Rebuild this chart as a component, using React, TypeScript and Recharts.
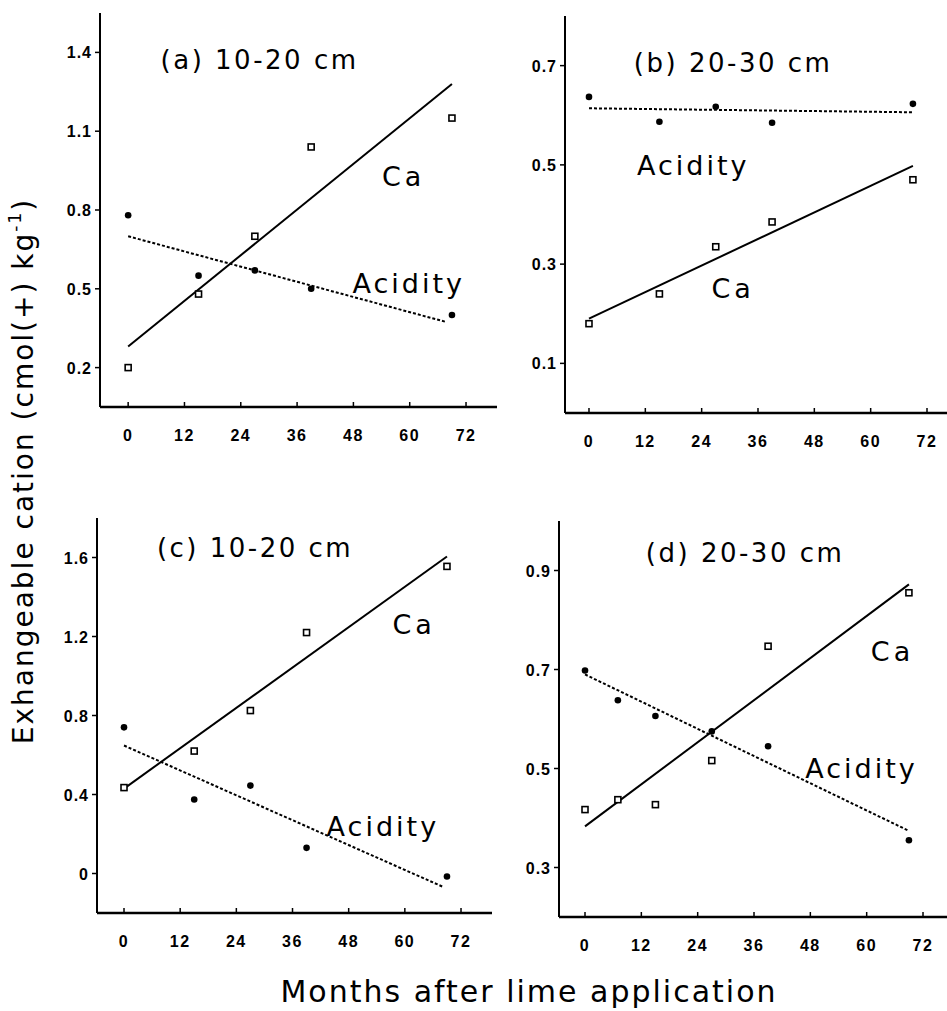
import React from 'react';
import { ComposedChart, XAxis, YAxis, Scatter, Line, ReferenceDot } from 'recharts';

// ---------- data ----------
const MONTH_TICKS = [0, 12, 24, 36, 48, 60, 72];

// (a) 10-20 cm
const MONTHS_A = [0, 15, 27, 39, 69];
const CA_A = [0.2, 0.48, 0.7, 1.04, 1.15];
const ACID_A = [0.78, 0.55, 0.57, 0.5, 0.4];
const CA_FIT_MONTHS_A = [0, 69];
const CA_FIT_A = [0.28, 1.28];
const ACID_FIT_MONTHS_A = [0, 67.5];
const ACID_FIT_A = [0.7, 0.375];
const Y_TICKS_A = [0.2, 0.5, 0.8, 1.1, 1.4];

// (b) 20-30 cm
const MONTHS_B = [0, 15, 27, 39, 69];
const CA_B = [0.18, 0.24, 0.335, 0.385, 0.47];
const ACID_B = [0.637, 0.587, 0.617, 0.585, 0.623];
const CA_FIT_MONTHS_B = [0, 69];
const CA_FIT_B = [0.19, 0.498];
const ACID_FIT_MONTHS_B = [0, 69];
const ACID_FIT_B = [0.614, 0.606];
const Y_TICKS_B = [0.1, 0.3, 0.5, 0.7];

// (c) 10-20 cm
const MONTHS_C = [0, 15, 27, 39, 69];
const CA_C = [0.435, 0.62, 0.825, 1.22, 1.555];
const ACID_C = [0.74, 0.375, 0.445, 0.13, -0.015];
const CA_FIT_MONTHS_C = [0, 69];
const CA_FIT_C = [0.43, 1.605];
const ACID_FIT_MONTHS_C = [0, 68];
const ACID_FIT_C = [0.648, -0.066];
const Y_TICKS_C = [0, 0.4, 0.8, 1.2, 1.6];

// (d) 20-30 cm
const MONTHS_D = [0, 7, 15, 27, 39, 69];
const CA_D = [0.417, 0.437, 0.427, 0.516, 0.747, 0.855];
const ACID_D = [0.698, 0.638, 0.606, 0.575, 0.545, 0.355];
const CA_FIT_MONTHS_D = [0, 69];
const CA_FIT_D = [0.383, 0.872];
const ACID_FIT_MONTHS_D = [0, 69];
const ACID_FIT_D = [0.69, 0.374];
const Y_TICKS_D = [0.3, 0.5, 0.7, 0.9];

const TITLES = ['(a) 10-20 cm', '(b) 20-30 cm', '(c) 10-20 cm', '(d) 20-30 cm'];
const Y_TITLE = 'Exhangeable cation (cmol(+) kg';
const X_TITLE = 'Months after lime application';

// ---------- helpers ----------
type Pt = { x: number; y: number };
const toPts = (xs: number[], ys: number[]): Pt[] => xs.map((x, i) => ({ x, y: ys[i] }));

const TICK_FONT = '"Liberation Sans", Arial, sans-serif';
const TEXT_FONT = '"DejaVu Sans", sans-serif';

const XTick = (props: any) => {
  const { x, y, payload } = props;
  return (
    <g>
      <line x1={x} x2={x} y1={y} y2={y - 5} stroke="#000" strokeWidth={1.5} />
      <text x={x} y={y + 34} textAnchor="middle" fontFamily={TICK_FONT} fontWeight="bold" fontSize={16} letterSpacing={1.5} fill="#000">
        {payload.value}
      </text>
    </g>
  );
};

const YTick = (props: any) => {
  const { x, y, payload } = props;
  return (
    <g>
      <line x1={x - 5} x2={x} y1={y} y2={y} stroke="#000" strokeWidth={1.5} />
      <text x={x - 8} y={y + 6} textAnchor="end" fontFamily={TICK_FONT} fontWeight="bold" fontSize={16} letterSpacing={1} fill="#000">
        {String(payload.value)}
      </text>
    </g>
  );
};

const SquareShape = (props: any) => {
  const { cx, cy } = props;
  if (cx == null || cy == null) return null;
  return <rect x={cx - 3} y={cy - 3} width={6} height={6} fill="#fff" stroke="#000" strokeWidth={1.6} />;
};

const DotShape = (props: any) => {
  const { cx, cy } = props;
  if (cx == null || cy == null) return null;
  return <circle cx={cx} cy={cy} r={3.3} fill="#000" />;
};

const textShape = (label: string, size: number, spacing: number) => (props: any) => (
  <text
    x={props.cx}
    y={props.cy}
    dy="0.36em"
    textAnchor="middle"
    fontFamily={TEXT_FONT}
    fontSize={size}
    letterSpacing={spacing}
    fill="#000"
  >
    {label}
  </text>
);

type Note = { text: string; x: number; y: number; size: number; spacing: number };

type PanelProps = {
  left: number;
  top: number;
  width: number;
  height: number;
  margin: { top: number; right: number; bottom: number; left: number };
  xHeight: number;
  xDomain: [number, number];
  yDomain: [number, number];
  yTicks: number[];
  ca: Pt[];
  acid: Pt[];
  caFit: Pt[];
  acidFit: Pt[];
  notes: Note[];
};

const Panel = (p: PanelProps) => (
  <div style={{ position: 'absolute', left: p.left, top: p.top, width: p.width, height: p.height }}>
    <ComposedChart width={p.width} height={p.height} margin={p.margin}>
      <XAxis
        type="number"
        dataKey="x"
        domain={p.xDomain}
        ticks={MONTH_TICKS}
        allowDataOverflow
        height={p.xHeight}
        tickSize={0}
        tickMargin={0}
        tickLine={false}
        tick={<XTick />}
        axisLine={{ stroke: '#000', strokeWidth: 2.5 }}
        interval={0}
      />
      <YAxis
        type="number"
        dataKey="y"
        domain={p.yDomain}
        ticks={p.yTicks}
        allowDataOverflow
        width={60}
        tickSize={0}
        tickMargin={0}
        tickLine={false}
        tick={<YTick />}
        axisLine={{ stroke: '#000', strokeWidth: 2 }}
        interval={0}
      />
      <Line data={p.caFit} dataKey="y" stroke="#000" strokeWidth={2} dot={false} isAnimationActive={false} />
      <Line data={p.acidFit} dataKey="y" stroke="#000" strokeWidth={2} strokeDasharray="3 2" dot={false} isAnimationActive={false} />
      <Scatter data={p.ca} dataKey="y" shape={SquareShape} isAnimationActive={false} />
      <Scatter data={p.acid} dataKey="y" shape={DotShape} isAnimationActive={false} />
      {p.notes.map((n, i) => (
        <ReferenceDot key={i} x={n.x} y={n.y} r={0} ifOverflow="visible" shape={textShape(n.text, n.size, n.spacing)} />
      ))}
    </ComposedChart>
  </div>
);

const TS = 26; // title size
const TSP = 2.5; // title spacing
const AS = 27; // annotation size

export default function App() {
  return (
    <div style={{ position: 'absolute', left: 0, top: 0, width: 947, height: 1011, background: '#fff', overflow: 'hidden' }}>
      <Panel
        left={0}
        top={0}
        width={500}
        height={470}
        margin={{ top: 13, right: 3, bottom: 23, left: 40 }}
        xHeight={40}
        xDomain={[-6, 78.6]}
        yDomain={[0.05, 1.55]}
        yTicks={Y_TICKS_A}
        ca={toPts(MONTHS_A, CA_A)}
        acid={toPts(MONTHS_A, ACID_A)}
        caFit={toPts(CA_FIT_MONTHS_A, CA_FIT_A)}
        acidFit={toPts(ACID_FIT_MONTHS_A, ACID_FIT_A)}
        notes={[
          { text: TITLES[0], x: 28, y: 1.373, size: TS, spacing: TSP },
          { text: 'Ca', x: 58.7, y: 0.93, size: AS, spacing: 4 },
          { text: 'Acidity', x: 59.8, y: 0.52, size: AS, spacing: 3 },
        ]}
      />
      <Panel
        left={480}
        top={0}
        width={467}
        height={470}
        margin={{ top: 16, right: 0, bottom: 17, left: 25 }}
        xHeight={40}
        xDomain={[-5.11, 76.26]}
        yDomain={[0, 0.8]}
        yTicks={Y_TICKS_B}
        ca={toPts(MONTHS_B, CA_B)}
        acid={toPts(MONTHS_B, ACID_B)}
        caFit={toPts(CA_FIT_MONTHS_B, CA_FIT_B)}
        acidFit={toPts(ACID_FIT_MONTHS_B, ACID_FIT_B)}
        notes={[
          { text: TITLES[1], x: 30.7, y: 0.706, size: TS, spacing: TSP },
          { text: 'Acidity', x: 22.2, y: 0.5, size: AS, spacing: 3 },
          { text: 'Ca', x: 30.7, y: 0.252, size: AS, spacing: 4 },
        ]}
      />
      <Panel
        left={0}
        top={480}
        width={500}
        height={480}
        margin={{ top: 38, right: 8, bottom: 12, left: 37 }}
        xHeight={35}
        xDomain={[-5.77, 78.62]}
        yDomain={[-0.2, 1.8]}
        yTicks={Y_TICKS_C}
        ca={toPts(MONTHS_C, CA_C)}
        acid={toPts(MONTHS_C, ACID_C)}
        caFit={toPts(CA_FIT_MONTHS_C, CA_FIT_C)}
        acidFit={toPts(ACID_FIT_MONTHS_C, ACID_FIT_C)}
        notes={[
          { text: TITLES[2], x: 28, y: 1.65, size: TS, spacing: TSP },
          { text: 'Ca', x: 62, y: 1.26, size: AS, spacing: 4 },
          { text: 'Acidity', x: 55.3, y: 0.24, size: AS, spacing: 3 },
        ]}
      />
      <Panel
        left={480}
        top={480}
        width={467}
        height={480}
        margin={{ top: 41, right: 0, bottom: 13, left: 19 }}
        xHeight={30}
        xDomain={[-5.54, 77.11]}
        yDomain={[0.2, 1.0]}
        yTicks={Y_TICKS_D}
        ca={toPts(MONTHS_D, CA_D)}
        acid={toPts(MONTHS_D, ACID_D)}
        caFit={toPts(CA_FIT_MONTHS_D, CA_FIT_D)}
        acidFit={toPts(ACID_FIT_MONTHS_D, ACID_FIT_D)}
        notes={[
          { text: TITLES[3], x: 34.1, y: 0.937, size: TS, spacing: TSP },
          { text: 'Ca', x: 65.5, y: 0.737, size: AS, spacing: 4 },
          { text: 'Acidity', x: 58.9, y: 0.5, size: AS, spacing: 3 },
        ]}
      />
      <svg width={947} height={1011} style={{ position: 'absolute', left: 0, top: 0, pointerEvents: 'none' }}>
        <text
          x={33}
          y={471}
          transform="rotate(-90 33 471)"
          textAnchor="middle"
          fontFamily={TEXT_FONT}
          fontSize={28}
          letterSpacing={2}
          fill="#000"
        >
          {Y_TITLE}
          <tspan fontSize={17} dy={-12}>-1</tspan>
          <tspan dy={12}>)</tspan>
        </text>
        <text x={529} y={1002} textAnchor="middle" fontFamily={TEXT_FONT} fontSize={30} letterSpacing={2} fill="#000">
          {X_TITLE}
        </text>
      </svg>
    </div>
  );
}
